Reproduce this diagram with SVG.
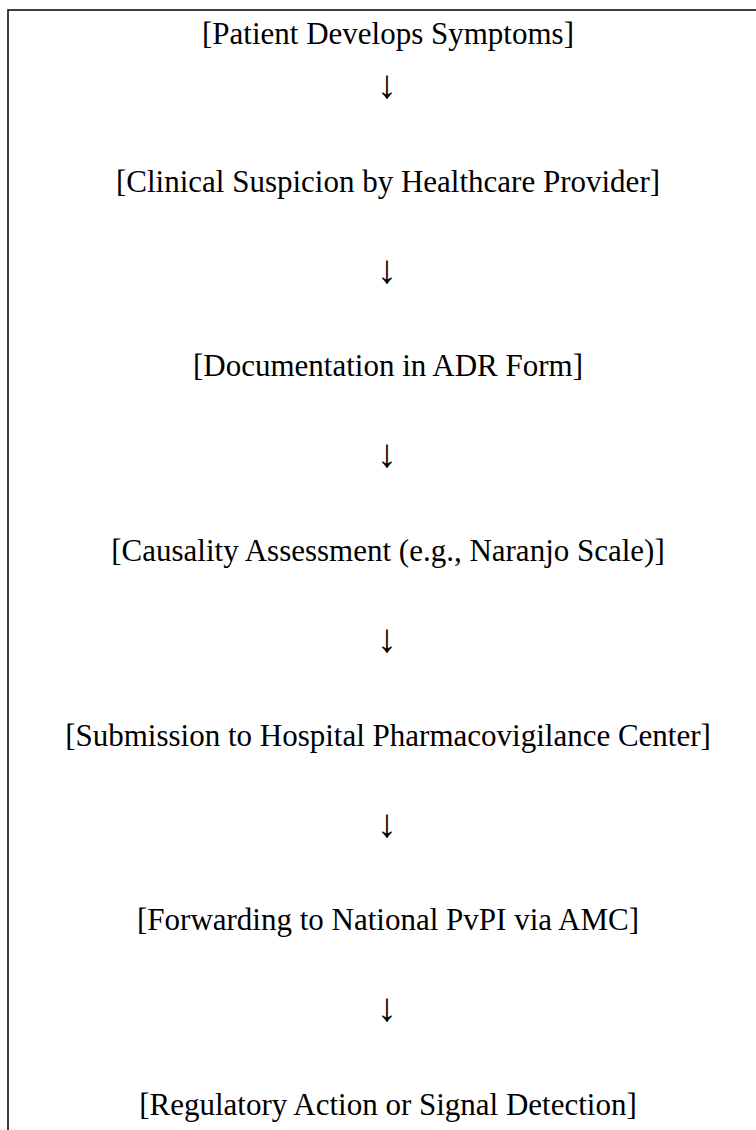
<svg xmlns="http://www.w3.org/2000/svg" width="756" height="1130" viewBox="0 0 756 1130">
<style>
.t{font-family:"Liberation Serif","Times New Roman",serif;font-size:31px;fill:#000;text-anchor:middle}
.a{font-family:"Liberation Serif","Times New Roman",serif;font-size:40px;fill:#000;text-anchor:middle}
.frame{stroke:#000;stroke-width:1.5;fill:none}
</style>
<rect width="756" height="1130" fill="#fff"/>
<g id="frame"><path class="frame" d="M8,1130 V10 H756"/></g>
<g id="n1"><text class="t" x="388" y="44">[Patient Develops Symptoms]</text></g>
<g id="n2"><text class="t" x="388" y="192">[Clinical Suspicion by Healthcare Provider]</text></g>
<g id="n3"><text class="t" x="388" y="376">[Documentation in ADR Form]</text></g>
<g id="n4"><text class="t" x="388" y="561">[Causality Assessment (e.g., Naranjo Scale)]</text></g>
<g id="n5"><text class="t" x="388" y="746">[Submission to Hospital Pharmacovigilance Center]</text></g>
<g id="n6"><text class="t" x="388" y="930">[Forwarding to National PvPI via AMC]</text></g>
<g id="n7"><text class="t" x="388" y="1115">[Regulatory Action or Signal Detection]</text></g>
<g id="connectors">
<text class="a" x="387" y="98">↓</text>
<text class="a" x="387" y="283">↓</text>
<text class="a" x="387" y="467">↓</text>
<text class="a" x="387" y="652">↓</text>
<text class="a" x="387" y="837">↓</text>
<text class="a" x="387" y="1021">↓</text>
</g>
</svg>
